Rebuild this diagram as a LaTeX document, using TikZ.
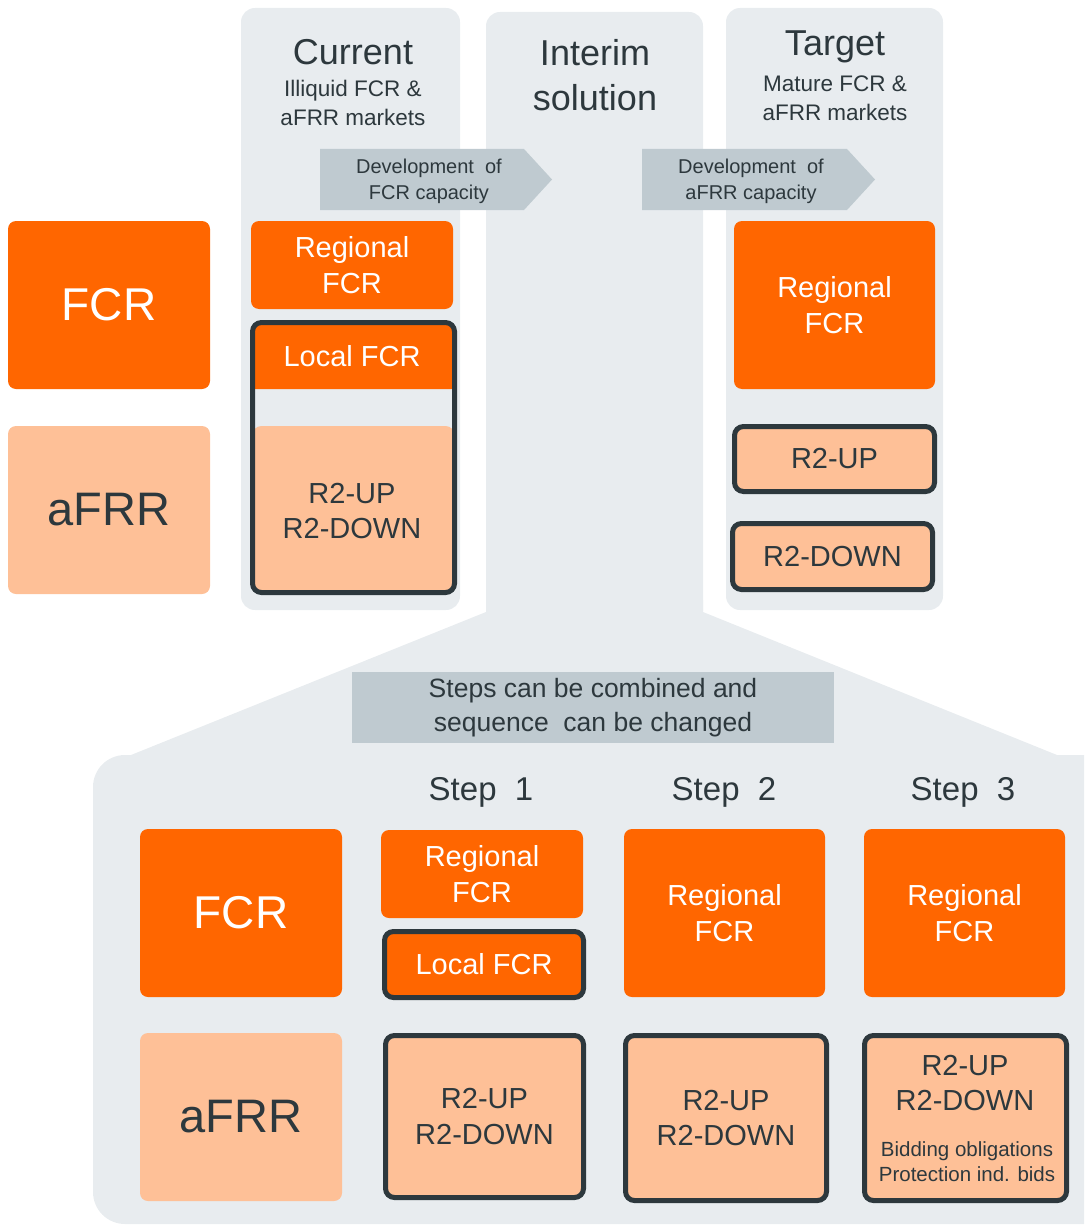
\documentclass[tikz,border=0pt]{standalone}
\usepackage{fontspec}
\setmainfont{Liberation Sans}
\definecolor{orng}{HTML}{FF6600}
\definecolor{lorng}{HTML}{FEC097}
\definecolor{dark}{HTML}{2D383D}
\definecolor{colbg}{HTML}{E8ECEF}
\definecolor{agray}{HTML}{BFCAD0}
\begin{document}
\begin{tikzpicture}[x=1pt,y=-1pt,
  box/.style={inner sep=0pt, rounded corners=8pt, align=center},
  orbox/.style={box, fill=orng, text=white, font=\fontsize{29}{35.5}\selectfont},
  lobox/.style={box, fill=lorng, text=dark, font=\fontsize{29}{35.5}\selectfont},
  bordbox/.style={box, draw=dark, line width=5pt, rounded corners=9pt},
  bigor/.style={box, fill=orng, text=white, font=\fontsize{46}{50}\selectfont, minimum width=202pt, minimum height=168pt},
  biglo/.style={box, fill=lorng, text=dark, font=\fontsize{47}{50}\selectfont, minimum width=202pt, minimum height=168pt},
  lab/.style={inner sep=0pt, align=center, font=\fontsize{29}{35.5}\selectfont},
  head/.style={inner sep=0pt, align=center, text=dark, font=\fontsize{36}{45}\selectfont},
  sub/.style={inner sep=0pt, align=center, text=dark, font=\fontsize{22.5}{29}\selectfont},
  dev/.style={inner sep=0pt, align=center, text=dark, font=\fontsize{20}{26}\selectfont},
  stephead/.style={inner sep=0pt, text=dark, font=\fontsize{33}{40}\selectfont},
  column/.style={fill=colbg, rounded corners=14pt}]
\useasboundingbox (0,0) rectangle (1084,1225);
\clip (0,0) rectangle (1084,1225);

% column backgrounds
\fill[column] (241,8) rectangle (460,610);
\fill[column] (486,12) rectangle (703,625);
\fill[column] (726,8) rectangle (943,610);
% interim expansion
\fill[colbg] (486,600) -- (486,612) -- (131,755) -- (1057,755) -- (703,612) -- (703,600) -- cycle;
\fill[colbg, rounded corners=32pt] (93,755) rectangle (1130,1224);

% headings
\node[head] (curt) at (353,52) {Current};
\node[sub] (curs) at (353,103) {Illiquid FCR \&\\aFRR markets};
\node[head] (intt) at (595,75) {Interim\\solution};
\node[head] (tart) at (835,47) {Target};
\node[sub] (tars) at (835,98) {Mature FCR \&\\aFRR markets};

% development arrows
\fill[agray] (320,149) -- (524,149) -- (552,179.5) -- (524,210) -- (320,210) -- cycle;
\node[dev] (dev1) at (429,181) {Development\ \ of\\FCR capacity};
\fill[agray] (642,149) -- (847,149) -- (875,179.5) -- (847,210) -- (642,210) -- cycle;
\node[dev] (dev2) at (751,181) {Development\ \ of\\aFRR capacity};

% left legend
\node[bigor] (fcr) at (109,305) {FCR};
\node[biglo] (afrr) at (109,510) {aFRR};

% current column
\node[orbox, minimum width=202pt, minimum height=88pt] (curreg) at (352,265) {Regional\\FCR};
\fill[orng] (252.5,389) [rounded corners=9pt] -- (252.5,322.5) -- (454.5,322.5) [sharp corners] -- (454.5,389) -- cycle;
\fill[lorng, rounded corners=9pt] (252.5,426) rectangle (454.5,592.5);
\node[bordbox, minimum width=202pt, minimum height=270pt] (curbox) at (353.5,457.5) {};
\node[lab, text=white] (curloc) at (352,356) {Local FCR};
\node[lab, text=dark] (curr2) at (352,511) {R2-UP\\R2-DOWN};

% target column
\node[orbox, minimum width=201pt, minimum height=168pt] (tarreg) at (834.5,305) {Regional\\FCR};
\node[lobox, bordbox, minimum width=200pt, minimum height=65pt] (tarup) at (834.5,459) {R2-UP};
\node[lobox, bordbox, minimum width=200pt, minimum height=66pt] (tardown) at (832.5,556.5) {R2-DOWN};

% steps note
\node[inner sep=0pt, fill=agray, minimum width=482pt, minimum height=71pt, align=center, text=dark,
      font=\fontsize{26.5}{34}\selectfont] (note) at (593,707.5) {Steps can be combined and\\sequence\ \ can be changed};

% step headers
\node[stephead] (st1) at (481,792) {Step\ \ 1};
\node[stephead] (st2) at (724,792) {Step\ \ 2};
\node[stephead] (st3) at (963,792) {Step\ \ 3};

% bottom legend
\node[bigor] (bfcr) at (241,913) {FCR};
\node[biglo] (bafrr) at (241,1117) {aFRR};

% step 1
\node[orbox, minimum width=202pt, minimum height=88pt] (s1reg) at (482,874) {Regional\\FCR};
\node[orbox, bordbox, minimum width=199pt, minimum height=66pt] (s1loc) at (484,964.5) {Local FCR};
\node[lobox, bordbox, minimum width=198pt, minimum height=162pt] (s1r2) at (484.5,1116.5) {R2-UP\\R2-DOWN};

% step 2
\node[orbox, minimum width=201pt, minimum height=168pt] (s2reg) at (724.5,913) {Regional\\FCR};
\node[lobox, bordbox, minimum width=201pt, minimum height=165pt] (s2r2) at (726,1118) {R2-UP\\R2-DOWN};

% step 3
\node[orbox, minimum width=201pt, minimum height=168pt] (s3reg) at (964.5,913) {Regional\\FCR};
\node[lobox, bordbox, minimum width=202pt, minimum height=165pt] (s3r2) at (965.5,1118) {};
\node[lab, text=dark] (s3lab) at (965,1083) {R2-UP\\R2-DOWN};
\node[inner sep=0pt, align=center, text=dark, font=\fontsize{20.5}{25}\selectfont] (s3bid) at (967,1162) {Bidding obligations\\Protection ind. bids};
\end{tikzpicture}
\end{document}
